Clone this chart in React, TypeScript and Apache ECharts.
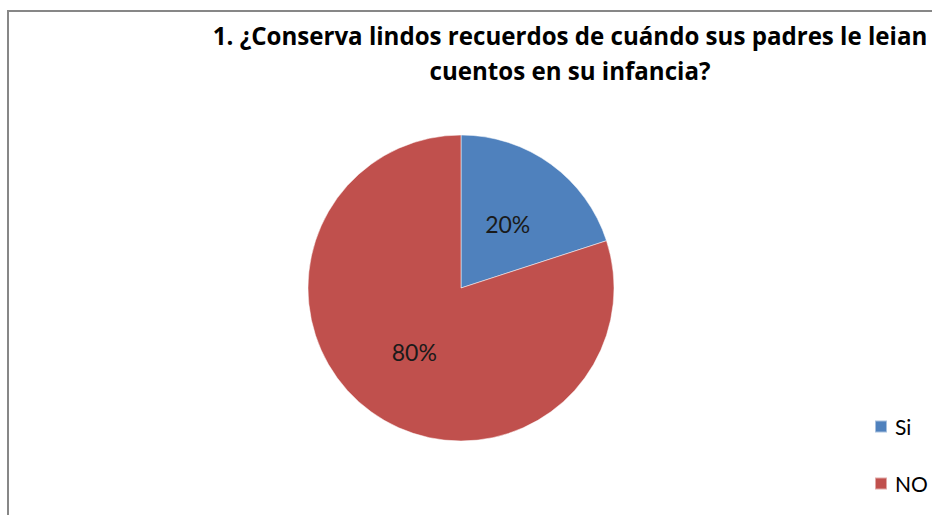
import React, { useEffect, useRef } from "react";
import * as echarts from "echarts";

const categories = ["Si", "NO"];
const values = [20, 80];
const colors = ["#4F81BD", "#C0504D"];
const titleText = "1. ¿Conserva lindos recuerdos de cuándo sus padres le leian\ncuentos en su infancia?";

export default function App() {
  const ref = useRef<HTMLDivElement>(null);
  useEffect(() => {
    document.body.style.margin = "0";
    const chart = echarts.init(ref.current!, undefined, { renderer: "svg" });
    chart.setOption({
      animation: false,
      backgroundColor: "#ffffff",
      title: {
        text: titleText,
        left: 565,
        top: 13,
        textAlign: "center",
        textStyle: {
          fontFamily: "Open Sans",
          fontWeight: "bold",
          fontSize: 24.1,
          color: "#000000",
          lineHeight: 35,
        },
      },
      legend: {
        orient: "vertical",
        left: 869,
        top: 411,
        itemWidth: 12,
        itemHeight: 12,
        itemGap: 36,
        icon: "rect",
        textStyle: { fontFamily: "Lato", fontSize: 21, color: "#000000", padding: [0, 0, 0, 3] },
        data: categories,
      },
      graphic: [
        {
          type: "rect",
          shape: { x: 8, y: 11, width: 1000, height: 600 },
          style: { fill: "none", stroke: "#878787", lineWidth: 2 },
          silent: true,
        },
      ],
      series: [
        {
          type: "pie",
          center: [461, 288],
          radius: [0, 153],
          startAngle: 90,
          clockwise: true,
          data: categories.map((c, i) => ({ name: c, value: values[i], itemStyle: { color: colors[i] } })),
          itemStyle: { borderColor: "rgba(255,255,255,0.5)", borderWidth: 1 },
          label: {
            show: true,
            position: "inside",
            formatter: (p: any) => `${p.value}%`,
            fontFamily: "Lato",
            fontSize: 23,
            color: "#1a1a1a",
          },
          labelLine: { show: false },
          emphasis: { disabled: true },
        },
      ],
    });
    return () => chart.dispose();
  }, []);
  return <div ref={ref} style={{ width: 932, height: 515 }} />;
}
